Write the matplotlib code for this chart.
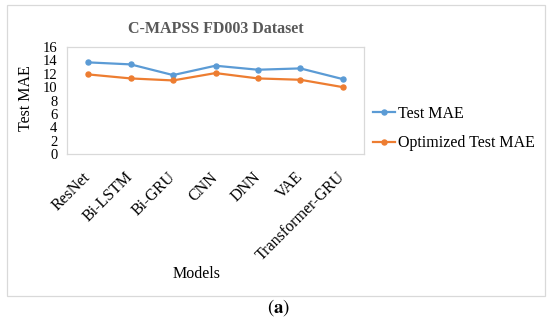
import numpy as np
import matplotlib
matplotlib.use('Agg')
import matplotlib.pyplot as plt
from matplotlib.patches import Rectangle
from matplotlib.transforms import ScaledTranslation

# data
models = ['ResNet', 'Bi-LSTM', 'Bi-GRU', 'CNN', 'DNN', 'VAE', 'Transformer-GRU']
test_mae = [13.7, 13.4, 11.8, 13.2, 12.6, 12.8, 11.2]
opt_test_mae = [11.9, 11.3, 11.0, 12.1, 11.3, 11.1, 10.0]
yticks = [0, 2, 4, 6, 8, 10, 12, 14, 16]

plt.rcParams['font.family'] = ['Liberation Serif', 'DejaVu Serif']
plt.rcParams['mathtext.fontset'] = 'stix'

W, H = 550, 326
fig = plt.figure(figsize=(W / 100, H / 100), dpi=100)
fig.patch.set_facecolor('white')

# outer chart frame
fig.patches.append(Rectangle((7 / W, 1 - 296 / H), 538 / W, 291 / H,
                             transform=fig.transFigure, fill=False,
                             edgecolor='#d9d9d9', linewidth=0.9))

ax = fig.add_axes([67 / W, 1 - 154 / H, 297 / W, 107 / H])
x = np.arange(len(models))
ax.plot(x, test_mae, color='#5b9bd5', marker='o', markersize=3.6,
        linewidth=1.6, label='Test MAE')
ax.plot(x, opt_test_mae, color='#ed7d31', marker='o', markersize=3.6,
        linewidth=1.6, label='Optimized Test MAE')

ax.set_xlim(-0.5, len(models) - 0.5)
ax.set_ylim(0, 16)
ax.set_yticks(yticks)
ax.set_xticks(x)
ax.set_xticklabels(models, rotation=45, ha='right', va='center',
                   rotation_mode='anchor', fontsize=11.5)
# nudge the slanted labels right, like Excel does
for lab in ax.get_xticklabels():
    lab.set_transform(lab.get_transform() +
                      ScaledTranslation(6 / 100, 0, fig.dpi_scale_trans))
ax.tick_params(axis='y', labelsize=10.5, length=0, pad=7)
ax.tick_params(axis='x', length=0, pad=15)
for s in ax.spines.values():
    s.set_color('#d9d9d9')
    s.set_linewidth(0.9)

ax.set_title('C-MAPSS FD003 Dataset', fontsize=11.5, fontweight='bold',
             color='#595959', pad=10)
fig.text(26 / W, 1 - 98 / H, 'Test MAE', fontsize=11.5, rotation=90,
         ha='center', va='center')
fig.text(197 / W, 1 - 274 / H, 'Models', fontsize=11.5, ha='center', va='center')

fig.legend(loc='center left', bbox_to_anchor=(373 / W, 1 - 128.5 / H),
           frameon=False, fontsize=11.5, handlelength=1.35, handletextpad=0.2,
           labelspacing=0.85, borderaxespad=0, borderpad=0)

fig.text(279 / W, 1 - 308 / H, r'$(\mathbf{a})$', fontsize=13.5,
         ha='center', va='center')

fig.savefig('out.png', dpi=100)
